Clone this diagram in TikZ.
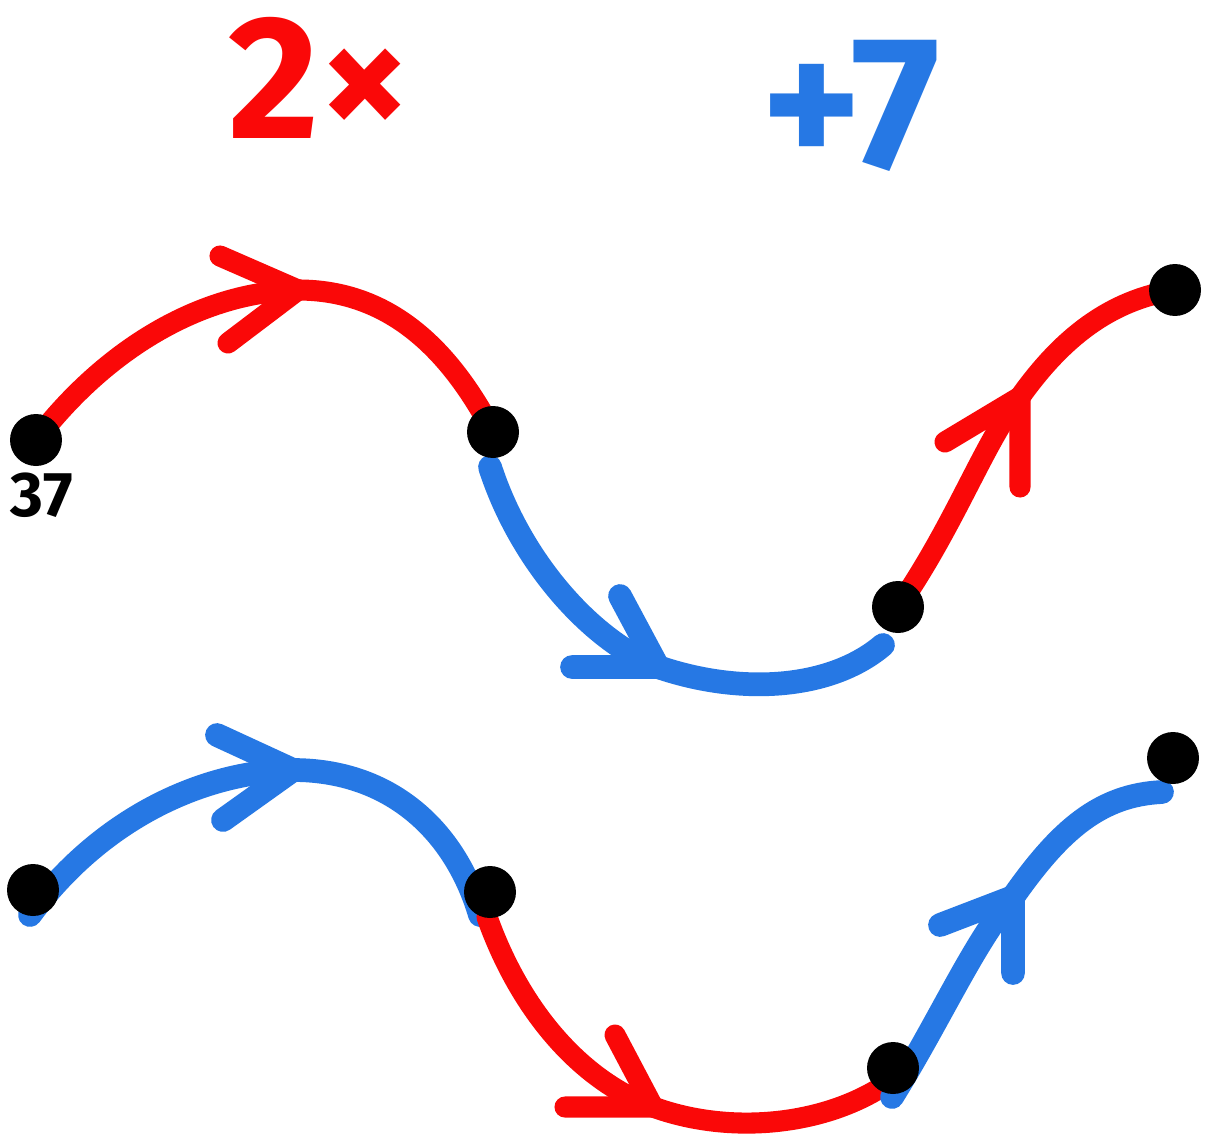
\documentclass[tikz,border=0pt]{standalone}
\usepackage{fontspec}
\setmainfont{Fira Sans}
\definecolor{mred}{RGB}{250,8,8}
\definecolor{mblue}{RGB}{38,120,228}
\begin{document}
\begin{tikzpicture}[x=0.02cm,y=-0.02cm,
  redline/.style={draw=mred,line width=12pt,line cap=round,line join=round},
  blueline/.style={draw=mblue,line width=13.5pt,line cap=round,line join=round},
  dot/.style={circle,fill=black,inner sep=0pt,minimum size=1.04cm},
  bigtext/.style={inner sep=0pt,font=\fontsize{100}{100}\selectfont\bfseries},
]
\useasboundingbox[fill=white] (0,0) rectangle (1206,1139);

% titles
\node[bigtext,text=mred,anchor=base west] (times) at (228,138) {2×};
\node[bigtext,text=mblue,anchor=base east,font=\fontsize{108}{108}\selectfont\bfseries] (plus) at (940,168) {+7};

% ---------- top row ----------
\coordinate (a1) at (36,440);
\coordinate (b1) at (493,432);
\coordinate (c1) at (898,607);
\coordinate (d1) at (1175,290);
\coordinate (v1) at (298,290);
\coordinate (v2) at (658,667);
\coordinate (v3) at (1020,397);
\coordinate (s2) at (490,467);
\coordinate (e2) at (883,645);

\draw[redline] (a1) .. controls (105,350) and (200,292) .. (v1)
  .. controls (390,290) and (450,350) .. (b1);
\draw[redline] (220,256) -- (v1) -- (228,343);

\draw[blueline] (s2) .. controls (520,560) and (590,640) .. (v2)
  .. controls (740,695) and (830,690) .. (e2);
\draw[blueline] (620,596) -- (v2) -- (572,667);

\draw[redline] (c1) .. controls (955,525) and (985,440) .. (v3)
  .. controls (1062,338) and (1110,300) .. (d1);
\draw[redline] (945,442) -- (v3) -- (1020,487);

\node[dot] (A1) at (a1) {};
\node[dot] (B1) at (b1) {};
\node[dot] (C1) at (c1) {};
\node[dot] (D1) at (d1) {};
\node[anchor=base,inner sep=0pt,font=\fontsize{36}{36}\selectfont\bfseries] (lab) at (42,516) {37};

% ---------- bottom row ----------
\coordinate (a2) at (33,890);
\coordinate (b2) at (490,892);
\coordinate (c2) at (893,1068);
\coordinate (d2) at (1173,758);
\coordinate (u1) at (293,770);
\coordinate (u2) at (653,1107);
\coordinate (u3) at (1013,897);
\coordinate (t1) at (30,915);
\coordinate (f1) at (480,915);
\coordinate (t2) at (487,917);
\coordinate (f2) at (880,1088);
\coordinate (t3) at (892,1097);
\coordinate (f3) at (1162,792);

\draw[blueline] (t1) .. controls (100,820) and (200,772) .. (u1)
  .. controls (390,770) and (455,830) .. (f1);
\draw[blueline] (217,735) -- (u1) -- (223,820);

\draw[redline] (t2) .. controls (520,1010) and (580,1080) .. (u2)
  .. controls (730,1135) and (820,1125) .. (f2);
\draw[redline] (615,1035) -- (u2) -- (565,1107);

\draw[blueline] (t3) .. controls (940,1020) and (975,940) .. (u3)
  .. controls (1060,830) and (1100,795) .. (f3);
\draw[blueline] (940,925) -- (u3) -- (1013,973);

\node[dot] (A2) at (a2) {};
\node[dot] (B2) at (b2) {};
\node[dot] (C2) at (c2) {};
\node[dot] (D2) at (d2) {};
\end{tikzpicture}
\end{document}
